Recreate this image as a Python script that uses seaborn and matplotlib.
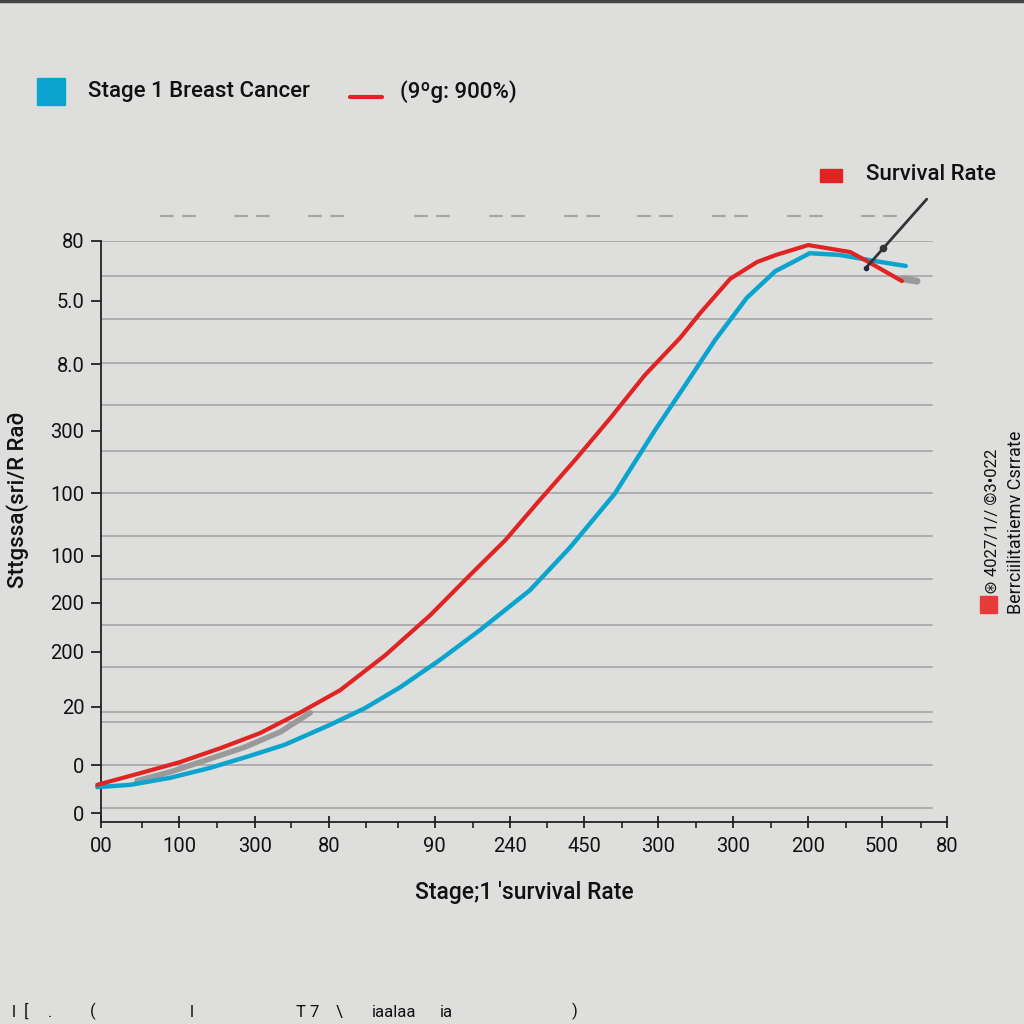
import numpy as np
import pandas as pd
import matplotlib
matplotlib.use("Agg")
import matplotlib.pyplot as plt
from matplotlib.lines import Line2D
from matplotlib.patches import Rectangle
import seaborn as sns

# curve values (x in tick units, y on 0-100 scale)
red_x = [-0.05, 0.52, 1.05, 1.59, 2.12, 2.65, 3.19, 3.79, 4.39, 4.92, 5.39, 5.85,
         6.32, 6.79, 7.25, 7.72, 7.99, 8.39, 8.75, 9.00, 9.43, 9.99, 10.19, 10.68]
red_y = [6.4, 8.4, 10.3, 12.7, 15.3, 18.8, 22.7, 28.7, 35.6, 42.5, 48.5, 55.4,
         62.3, 69.5, 76.9, 83.3, 87.6, 93.5, 96.4, 97.6, 99.3, 98.1, 96.7, 93.1]
blue_x = [-0.05, 0.39, 0.92, 1.45, 1.99, 2.45, 3.05, 3.52, 3.99, 4.52, 5.05, 5.72,
          6.25, 6.85, 7.39, 7.79, 8.19, 8.61, 8.99, 9.23, 9.45, 9.85, 10.25, 10.73]
blue_y = [6.0, 6.4, 7.6, 9.3, 11.4, 13.3, 16.7, 19.6, 23.2, 27.9, 33.0, 39.9,
          47.2, 56.5, 67.5, 75.2, 83.0, 90.2, 94.8, 96.4, 97.9, 97.6, 96.7, 95.7]
gray_x = [0.48, 0.92, 1.32, 1.92, 2.39, 2.79]
gray_y = [7.1, 8.6, 10.3, 12.9, 15.5, 18.8]
stub_x = [10.69, 10.88]
stub_y = [93.5, 93.1]

x_ticks = [0, 1.04, 2.05, 3.04, 4.45, 5.45, 6.44, 7.43, 8.43, 9.43, 10.41, 11.28]
x_labels = ["00", "100", "300", "80", "90", "240", "450", "300", "300", "200", "500", "80"]
x_minor = [0.55, 1.55, 2.53, 3.53, 3.96, 4.96, 5.95, 6.95, 7.93, 8.93, 9.93, 10.93]
y_ticks = [100, 89.7, 78.8, 67.3, 56.6, 45.8, 37.7, 29.3, 19.8, 9.8, 1.5]
y_labels = ["80", "5.0", "8.0", "300", "100", "100", "200", "200", "20", "0", "0"]
grid_y = [100, 94.0, 86.6, 79.0, 71.8, 63.9, 56.6, 49.2, 41.8, 33.9, 26.7,
          18.9, 17.2, 9.8, 2.4]
dash_starts = [0.80, 1.79, 2.77, 4.19, 5.19, 6.19, 7.16, 8.16, 9.16, 10.15]
bottom_bits = ["l", "[", ".", "(", "l", "T 7", "\\", "iaalaa", "ia", ")"]

BG = "#dedfdd"
BLUE = "#0ba4cf"
RED = "#e02424"
GRAY = "#9a9a9a"
INK = "#111111"

sns.set_theme(style="white")
plt.rcParams["font.family"] = ["Roboto", "DejaVu Sans"]
plt.rcParams["figure.facecolor"] = BG
plt.rcParams["axes.facecolor"] = BG

fig = plt.figure(figsize=(10.24, 10.24), dpi=100)
ax = fig.add_axes([101 / 1024, 202 / 1024, 846 / 1024, 581 / 1024])

for gy in grid_y:
    ax.axhline(gy, xmin=0, xmax=0.982, color="#a9a9a9", lw=1.3, zorder=1)

df_red = pd.DataFrame({"x": red_x, "y": red_y})
df_blue = pd.DataFrame({"x": blue_x, "y": blue_y})
df_gray = pd.DataFrame({"x": gray_x, "y": gray_y})
sns.lineplot(data=df_gray, x="x", y="y", color=GRAY, lw=4, ax=ax, sort=False,
             zorder=2, solid_capstyle="round")
sns.lineplot(data=df_blue, x="x", y="y", color=BLUE, lw=3.2, ax=ax, sort=False,
             zorder=3, clip_on=False)
sns.lineplot(data=df_red, x="x", y="y", color=RED, lw=3.0, ax=ax, sort=False,
             zorder=4, clip_on=False)
ax.plot(stub_x, stub_y, color=GRAY, lw=5, solid_capstyle="round", zorder=2)

# dashed marks above the plot, two short dashes per group
dash_w = 0.16
group_w = 0.45
for a in dash_starts:
    for s in (a, a + group_w - dash_w):
        ax.plot([s, s + dash_w], [104.3, 104.3], color="#a5a5a5", lw=1.6,
                clip_on=False)

# pointer line
ax.plot([11.01, 10.2], [107.2, 95.4], color="#333333", lw=2, clip_on=False, zorder=5)
ax.plot([10.43], [98.8], "o", color="#333333", ms=4.5, clip_on=False, zorder=5)
ax.plot([10.2], [95.4], "o", color="#222244", ms=3, clip_on=False, zorder=5)

ax.set_xlim(0, 11.28)
ax.set_ylim(0, 100)
ax.set_xticks(x_ticks)
ax.set_xticklabels(x_labels)
ax.set_xticks(x_minor, minor=True)
ax.set_yticks(y_ticks)
ax.set_yticklabels(y_labels)
ax.tick_params(axis="x", which="major", direction="inout", length=9, width=1.3,
               color="#222222", labelsize=14.5, pad=6, bottom=True)
ax.tick_params(axis="x", which="minor", direction="out", length=4, width=1.2,
               color="#222222", bottom=True)
ax.tick_params(axis="y", direction="out", length=7, width=1.3, color="#222222",
               labelsize=14.5, pad=5, left=True)
for lab in ax.get_xticklabels() + ax.get_yticklabels():
    lab.set_color(INK)

sns.despine(ax=ax)
for s in ["left", "bottom"]:
    ax.spines[s].set_color("#222222")
    ax.spines[s].set_linewidth(1.3)

ax.set_xlabel("Stage;1 'survival Rate", fontsize=16.5, fontweight="medium",
              color=INK, labelpad=18)
ax.set_ylabel("Sttgssa(sri/R Ra\u2202", fontsize=16, fontweight="medium",
              color=INK)
ax.yaxis.set_label_coords(-72 / 846, 0.555)

# top legend
fig.patches.append(Rectangle((37 / 1024, 1 - 105 / 1024), 28 / 1024, 27 / 1024,
                             transform=fig.transFigure, color=BLUE))
fig.text(88 / 1024, 1 - 92 / 1024, "Stage 1 Breast Cancer", fontsize=16,
         fontweight="medium", va="center", color=INK)
fig.lines.append(Line2D([350 / 1024, 382 / 1024], [1 - 97 / 1024, 1 - 97 / 1024],
                        transform=fig.transFigure, color=RED, lw=3))
fig.text(400 / 1024, 1 - 92 / 1024, "(9\u00bag: 900%)", fontsize=16,
         fontweight="medium", va="center", color=INK)

# right legend
fig.patches.append(Rectangle((820 / 1024, 1 - 182 / 1024), 22 / 1024, 13 / 1024,
                             transform=fig.transFigure, color=RED))
fig.text(866 / 1024, 1 - 174 / 1024, "Survival Rate", fontsize=16,
         fontweight="medium", va="center", color=INK)

# vertical text on right
fig.patches.append(Rectangle((980 / 1024, 1 - 613 / 1024), 17 / 1024, 17 / 1024,
                             transform=fig.transFigure, color="#e83a3a"))
fig.text(992 / 1024, 1 - 521 / 1024, "\u229b 4027/1// \u00a93\u2022022", fontsize=12,
         rotation=90, ha="center", va="center", color=INK,
         family=["Roboto", "DejaVu Sans"])
fig.text(1016 / 1024, 1 - 522 / 1024, "Berrciilitatiemv Csrrate", fontsize=13,
         rotation=90, ha="center", va="center", color=INK)

# scattered fragments of text near the bottom edge
bottom_x = [12, 24, 48, 90, 190, 296, 336, 372, 440, 572]
for bx, bit in zip(bottom_x, bottom_bits):
    fig.text(bx / 1024, 4 / 1024, bit, fontsize=12, va="bottom", color=INK)

# top border line
fig.lines.append(Line2D([0, 1], [0.999, 0.999], transform=fig.transFigure,
                        color="#444444", lw=2.5))

fig.savefig("out.png", dpi=100, facecolor=BG)
